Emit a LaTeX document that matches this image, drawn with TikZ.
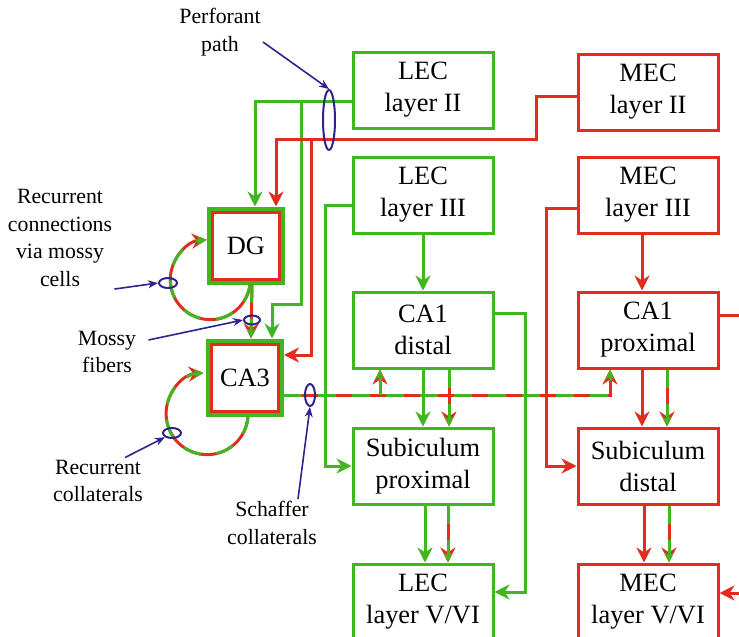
\documentclass[tikz,border=0pt]{standalone}
\usepackage{fontspec}
\setmainfont{Liberation Serif}
\newfontfamily\figfont{Liberation Serif}
\usetikzlibrary{arrows.meta,calc,shapes.geometric}
\definecolor{cgreen}{RGB}{64,182,32}
\definecolor{cred}{RGB}{226,44,30}
\definecolor{cblue}{RGB}{44,36,140}

\begin{document}
\begin{tikzpicture}[x=0.5pt,y=-0.5pt,
		every node/.style={font=\figfont\fontsize{13.2}{16}\selectfont},
		box/.style={draw, line width=1.5pt, minimum width=70pt,
			minimum height=38pt, inner sep=0pt, align=center},
		hub/.style={draw=cgreen, line width=2pt, minimum size=37pt, inner sep=0pt},
		gline/.style={cgreen, line width=1.5pt, -{Stealth[length=7.5pt,width=7.5pt]}},
		rline/.style={cred, line width=1.5pt, -{Stealth[length=7.5pt,width=7.5pt]}},
		mixed/.style={draw=cred, line width=1.5pt,
			-{Stealth[length=7.5pt,width=7.5pt]},
			postaction={draw=cgreen, line width=1.5pt, dash pattern=on 9pt off 8pt,
				-{Stealth[length=5pt,width=4.5pt]}}},
		note/.style={cblue, line width=0.8pt, -{Stealth[length=5pt,width=4pt]}},
		ring/.style={ellipse, draw=cblue, line width=1pt, inner sep=0pt},
		lab/.style={font=\figfont\fontsize{10.9}{13.8}\selectfont, align=center, inner sep=1pt}]
		% Picture is laid out in pixels of the source figure, y pointing down.
		\useasboundingbox (0,0) rectangle (739,637);
		\clip (0,0) rectangle (739,637);

		% Lateral (green) and medial (red) streams.
		\node[box, draw=cgreen] (lec2) at (423,90) {LEC\\layer II};
		\node[box, draw=cred] (mec2) at (648,92) {MEC\\layer II};
		\node[box, draw=cgreen] (lec3) at (423,195) {LEC\\layer III};
		\node[box, draw=cred] (mec3) at (648,195) {MEC\\layer III};
		\node[box, draw=cgreen] (ca1d) at (423,330) {CA1\\distal};
		\node[box, draw=cred] (ca1p) at (648,330) {CA1\\proximal};
		\node[box, draw=cgreen] (subp) at (423,466) {Subiculum\\proximal};
		\node[box, draw=cred] (subd) at (648,466) {Subiculum\\distal};
		\node[box, draw=cgreen] (lec56) at (423,602) {LEC\\layer V/VI};
		\node[box, draw=cred] (mec56) at (648,602) {MEC\\layer V/VI};

		% DG and CA3 get both streams, hence the double frame.
		\node[hub] (dg) at (246,245.5) {DG};
		\draw[cred, line width=1.5pt]
			($(dg.north west)+(5.5,5.5)$) rectangle ($(dg.south east)-(5.5,5.5)$);
		\node[hub] (ca3) at (245,377.5) {CA3};
		\draw[cred, line width=1.5pt]
			($(ca3.north west)+(5.5,5.5)$) rectangle ($(ca3.south east)-(5.5,5.5)$);

		% Perforant path out of layer II.
		\coordinate (lectap) at (301,101);
		\coordinate (mectap) at (311,139.5);
		\draw[gline] ($(lec2.west)+(0,11)$) -| ($(dg.north)+(9,0)$);
		\draw[gline] (lectap) |- ($(ca3.north)+(27,-34)$)
			-- ($(ca3.north)+(27,0)$);
		\draw[rline] ($(mec2.west)+(0,4)$) -- ++(-40,0)
			|- ($(dg.north)+(30,-67)$) -- ($(dg.north)+(30,0)$);
		\draw[rline] (mectap) |- ($(ca3.east)+(0,-22.5)$);

		% Layer III to CA1 and subiculum.
		\draw[gline] (lec3.south) -- (ca1d.north);
		\draw[rline] ($(mec3.south)+(-6,0)$) -- ($(ca1p.north)+(-6,0)$);
		\draw[gline] ($(lec3.west)+(0,10)$) -- ++(-26,0) |- (subp.west);
		\draw[rline] ($(mec3.west)+(0,13)$) -- ++(-30,0) |- (subd.west);

		% CA1 and subiculum to the deep layers.
		\draw[gline] (ca1d.south) -- (subp.north);
		\draw[mixed] ($(ca1d.south)+(26,0)$) -- ($(subp.north)+(26,0)$);
		\draw[rline] ($(ca1p.south)+(-6,0)$) -- ($(subd.north)+(-6,0)$);
		\draw[mixed] ($(ca1p.south)+(19,0)$) -- ($(subd.north)+(19,0)$);
		\draw[gline] ($(subp.south)+(2,0)$) -- ($(lec56.north)+(2,0)$);
		\draw[mixed] ($(subp.south)+(25,0)$) -- ($(lec56.north)+(25,0)$);
		\draw[rline] ($(subd.south)+(-4,0)$) -- ($(mec56.north)+(-4,0)$);
		\draw[mixed] ($(subd.south)+(21,0)$) -- ($(mec56.north)+(21,0)$);
		\draw[gline] ($(ca1d.east)+(0,-17)$) -- ++(31,0)
			|- ($(lec56.east)+(0,-10)$);
		\draw[rline] ($(ca1p.east)+(0,-15)$) -- ++(40,0)
			|- ($(mec56.east)+(0,-9)$);

		% Mossy fibers and the two recurrent loops.
		\draw[mixed] ($(dg.south)+(6,0)$) -- ($(ca3.north)+(6,0)$);
		\draw[mixed] ($(dg.south)+(4,0)$)
			arc[start angle=7, end angle=265, radius=40];
		\draw[mixed] ($(ca3.south)+(3,0)$)
			arc[start angle=4, end angle=265, radius=41];

		% Schaffer collaterals.
		\draw[mixed] ($(ca3.east)+(0,17.5)$) -| ($(ca1p.south)+(-38,0)$);
		\draw[mixed] ($(ca1d.south)+(-43,25.5)$) -- ($(ca1d.south)+(-43,0)$);

		% Labels with their pointers.
		\node[lab] (pplab) at (220,32) {Perforant\\path};
		\node[ring, minimum width=6pt, minimum height=30pt] (ppring) at (329,120) {};
		\draw[note] ($(pplab.east)+(0,10)$) -- (ppring.north);

		\node[lab] (rclab) at (60,238) {Recurrent\\connections\\via mossy\\cells};
		\node[ring, minimum width=9pt, minimum height=5pt] (dgring) at (168,283) {};
		\draw[note] (rclab.south east) -- (dgring.west);

		\node[lab] (mflab) at (107,352) {Mossy\\fibers};
		\node[ring, minimum width=8pt, minimum height=4.5pt] (mfring) at (252,320) {};
		\draw[note] ($(mflab.east)+(10,-12)$) -- (mfring.west);

		\node[lab] (rcclab) at (98,481) {Recurrent\\collaterals};
		\node[ring, minimum width=9pt, minimum height=5pt] (rccring) at (172,433) {};
		\draw[note] ($(rcclab.north)+(27,0)$) -- (rccring.south west);

		\node[lab] (sclab) at (272,523) {Schaffer\\collaterals};
		\node[ring, minimum width=5pt, minimum height=11pt] (scring) at (310,395) {};
		\draw[note] ($(sclab.north)+(26,0)$) -- (scring.south);
	\end{tikzpicture}
\end{document}
